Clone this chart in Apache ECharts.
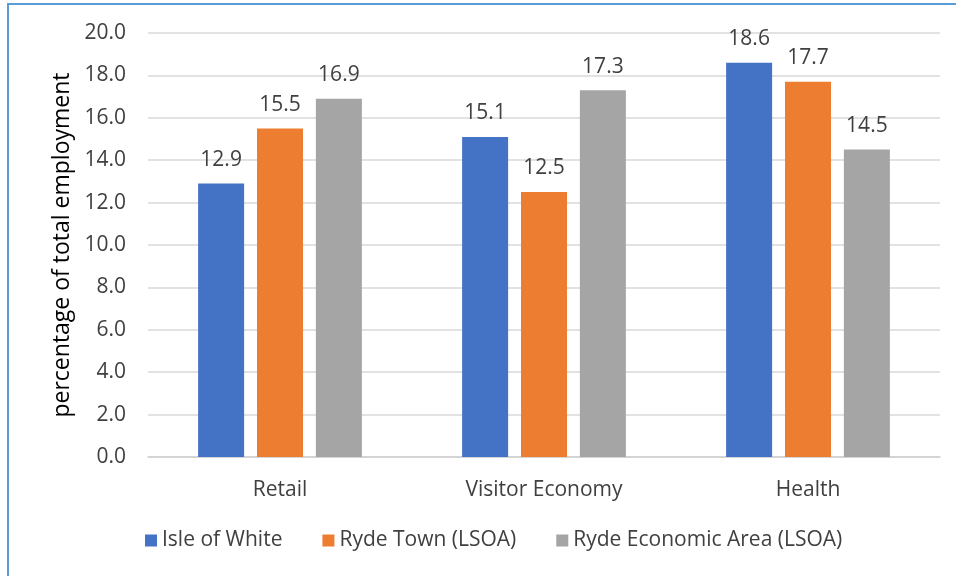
<!DOCTYPE html>
<html>
<head>
<meta charset="utf-8">
<script src="https://cdn.jsdelivr.net/npm/echarts@6/dist/echarts.min.js"></script>
<style>
html,body{margin:0;padding:0;background:#fff;overflow:hidden;}
#frame{position:absolute;left:7px;top:3px;width:1000px;height:1000px;border:2px solid #5b9bd5;box-sizing:border-box;}
#chart{position:absolute;left:0;top:0;width:956px;height:576px;}
</style>
</head>
<body>
<div id="frame"></div>
<div id="chart"></div>
<script>
const categories = ["Retail", "Visitor Economy", "Health"];
const isleOfWhite = [12.9, 15.1, 18.6];
const rydeTown = [15.5, 12.5, 17.7];
const rydeEconomicArea = [16.9, 17.3, 14.5];
const seriesNames = ["Isle of White", "Ryde Town (LSOA)", "Ryde Economic Area (LSOA)"];
const colors = ["#4472c4", "#ed7d31", "#a5a5a5"];

const font = "'Open Sans', sans-serif";
const textColor = "#404040";
const chart = echarts.init(document.getElementById('chart'));
const mk = (name, data, color) => ({
  name, type: 'bar', data,
  itemStyle: { color },
  barWidth: 46,
  barGap: '28%',
  label: { show: true, position: 'top', distance: 13, formatter: p => p.value.toFixed(1),
    fontFamily: font, fontSize: 21, color: textColor }
});
chart.setOption({
  animation: false,
  textStyle: { fontFamily: font },
  grid: { left: 148, right: 16, top: 33, bottom: 119, containLabel: false },
  legend: {
    bottom: 20, left: 140, itemWidth: 12, itemHeight: 12, itemGap: 40,
    icon: 'rect',
    textStyle: { fontFamily: font, fontSize: 21, color: textColor },
    data: seriesNames
  },
  xAxis: {
    type: 'category', data: categories,
    axisLine: { show: true, lineStyle: { color: '#d0d0d0', width: 1.5 } },
    axisTick: { show: false },
    axisLabel: { fontFamily: font, fontSize: 21, color: textColor, margin: 23 }
  },
  yAxis: {
    type: 'value', min: 0, max: 20, interval: 2,
    name: 'percentage of total employment', nameLocation: 'middle', nameGap: 72,
    nameTextStyle: { fontFamily: font, fontSize: 23, color: '#000' },
    axisLine: { show: false }, axisTick: { show: false },
    axisLabel: { fontFamily: font, fontSize: 21, color: textColor, margin: 22, formatter: v => v.toFixed(1) },
    splitLine: { lineStyle: { color: '#d9d9d9', width: 1.5 } }
  },
  series: [
    mk(seriesNames[0], isleOfWhite, colors[0]),
    mk(seriesNames[1], rydeTown, colors[1]),
    mk(seriesNames[2], rydeEconomicArea, colors[2])
  ]
});
</script>
</body>
</html>
